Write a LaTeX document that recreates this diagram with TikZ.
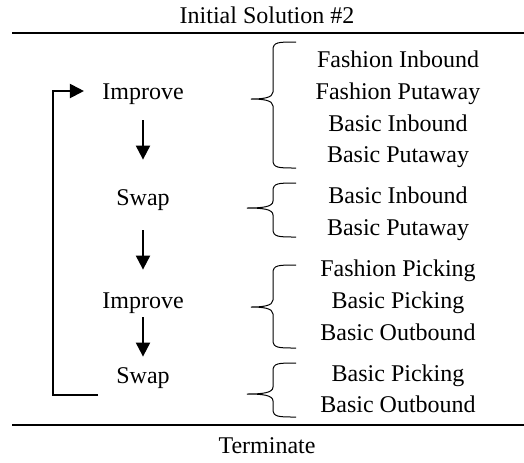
\documentclass[tikz,border=0pt]{standalone}
\usepackage{fontspec}
\setmainfont{Liberation Serif}
\usetikzlibrary{arrows.meta}

% curly brace: top y, tip y, tip x, bottom y
\newcommand{\wordbrace}[4]{%
  \draw[brace] (296,#1) .. controls (278,#1) and (273,#1) .. (273,#1+8)
    -- (273,#2-7) .. controls (273,#2-1) and (262,#2) .. (#3,#2)
    .. controls (262,#2) and (273,#2+1) .. (273,#2+7)
    -- (273,#4-8) .. controls (273,#4) and (278,#4) .. (296,#4);}

\begin{document}
\begin{tikzpicture}[
  x=0.5pt, y=-0.5pt,
  font=\fontsize{12}{14}\selectfont,
  lbl/.style={anchor=base, inner sep=0pt, text height=8pt, text depth=0pt},
  arrow/.style={-{Triangle[length=7pt,width=7pt]}, line width=1pt},
  backline/.style={-{Triangle[length=7pt,width=7pt]}, line width=1pt, shorten >=9pt},
  brace/.style={line width=0.5pt},
  rule/.style={line width=1pt}
]
\useasboundingbox (0,0) rectangle (524,462);
\node[lbl] (title) at (267,23) {Initial Solution \#2};
\node[lbl] (term) at (267,453) {Terminate};
\draw[rule] (12,33) -- (524,33);
\draw[rule] (12,425) -- (524,425);
% left column
\node[lbl] (imp1) at (143,99) {Improve};
\node[lbl] (swap1) at (143,205) {Swap};
\node[lbl] (imp2) at (143,308) {Improve};
\node[lbl] (swap2) at (143,383) {Swap};
% right column
\node[lbl] (fashin) at (398,67) {Fashion Inbound};
\node[lbl] (fashput) at (398,99) {Fashion Putaway};
\node[lbl] (basin) at (398,131) {Basic Inbound};
\node[lbl] (basput) at (398,162) {Basic Putaway};
\node[lbl] (basin2) at (398,203) {Basic Inbound};
\node[lbl] (basput2) at (398,235) {Basic Putaway};
\node[lbl] (fashpick) at (398,276) {Fashion Picking};
\node[lbl] (baspick) at (398,308) {Basic Picking};
\node[lbl] (basout) at (398,340) {Basic Outbound};
\node[lbl] (baspick2) at (398,381) {Basic Picking};
\node[lbl] (basout2) at (398,412) {Basic Outbound};
% arrows
\draw[arrow, shorten <=10.5pt, shorten >=14.5pt] (imp1) -- (swap1);
\draw[arrow, shorten <=12.5pt, shorten >=11pt] (swap1) -- (imp2);
\draw[arrow, shorten <=4.5pt, shorten >=5pt] (imp2) -- (swap2);
\coordinate (loopend) at (98,395);
\draw[backline] (loopend) -- ++(-45,0) |- (imp1.west);
% braces
\wordbrace{42}{99}{251}{168}
\wordbrace{183}{208}{247}{237}
\wordbrace{265}{307}{251}{348}
\wordbrace{363}{394}{247}{417}
\end{tikzpicture}
\end{document}
